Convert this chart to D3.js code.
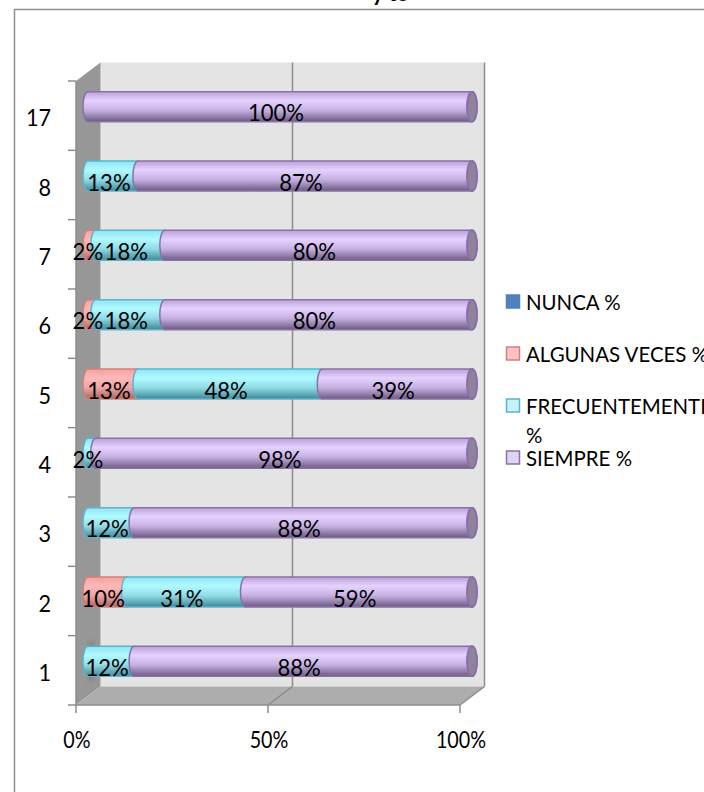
<!DOCTYPE html>
<html><head><meta charset="utf-8">
<script src="https://cdnjs.cloudflare.com/ajax/libs/d3/7.8.5/d3.min.js"></script>
<style>html,body{margin:0;padding:0;background:#fff;overflow:hidden}svg{display:block}text{font-family:Lato,"Open Sans",sans-serif;fill:#000}</style>
</head><body><svg id="c" width="704" height="792"></svg>
<script>
const categories = ["1","2","3","4","5","6","7","8","17"];
const seriesNames = ["NUNCA %","ALGUNAS VECES %","FRECUENTEMENTE %","SIEMPRE %"];
const nunca = [0,0,0,0,0,0,0,0,0];
const algunas = [0,10,0,0,13,2,2,0,0];
const frecuentemente = [12,31,12,2,48,18,18,13,0];
const siempre = [88,59,88,98,39,80,80,87,100];
const xTicks = [0,50,100];
const titleText = "y to";
const seriesValues = [nunca,algunas,frecuentemente,siempre];

const svg = d3.select("#c");
const defs = svg.append("defs");
const palette = [
 {stroke:"#4f81bd",stops:["#5f8fc8","#7fa8dc","#5f86b8","#34567f"],sw:"#4f81bd"},
 {stroke:"#d0807c",stops:["#f2a3a1","#ffb8b6","#eea5a3","#a86664"],sw:"#ffc4c2"},
 {stroke:"#5cb4cc",stops:["#8fe4f2","#b0faff","#90dbe6","#3f8795"],sw:"#c6f2f8"},
 {stroke:"#8a70aa",stops:["#b9a2d6","#e5d2ff","#c6b0e2","#6b5a80"],sw:"#e0d4ee"}
];
palette.forEach((p,i)=>{
  const g=defs.append("linearGradient").attr("id","g"+i).attr("x1",0).attr("x2",0).attr("y1",0).attr("y2",1);
  [0,.3,.62,1].forEach((o,j)=>g.append("stop").attr("offset",o).attr("stop-color",p.stops[j]));
});
defs.append("filter").attr("id","soft").append("feGaussianBlur").attr("stdDeviation",2.5);

// frame
svg.append("path").attr("d","M14.5,800V9.5H720").attr("fill","none").attr("stroke","#8e8e8e").attr("stroke-width",1.5);
svg.append("text").attr("x",372).attr("y",1).attr("font-weight",700).attr("font-size",22).text(titleText);

// 3D scaffold
const front = d3.scaleLinear().domain([0,100]).range([76,460]);
const depthX = 24.5, depthY = 18.5;
const plotTop = 81, base = 705;
const wallGrey="#e4e4e4", sideGrey="#979797", floorGrey="#adadad", lineGrey="#8c8c8c";
const poly=(pts,fill)=>svg.append("polygon").attr("points",pts.map(p=>p.join(",")).join(" ")).attr("fill",fill);
poly([[front(0)+depthX,plotTop-depthY],[front(100)+depthX,plotTop-depthY],[front(100)+depthX,base-depthY],[front(0)+depthX,base-depthY]],wallGrey);
poly([[front(0),plotTop],[front(0)+depthX,plotTop-depthY],[front(0)+depthX,base-depthY],[front(0),base]],sideGrey);
poly([[front(0),base],[front(0)+depthX,base-depthY],[front(100)+depthX,base-depthY],[front(100),base]],floorGrey);

const line=(x1,y1,x2,y2,w=1.5)=>svg.append("line").attr("x1",x1).attr("y1",y1).attr("x2",x2).attr("y2",y2).attr("stroke",lineGrey).attr("stroke-width",w);
xTicks.forEach(t=>{
  const x=front(t);
  if(t>0){ line(x+depthX,plotTop-depthY,x+depthX,base-depthY); line(x,base,x+depthX,base-depthY); }
  line(x,base,x,base+8);
});
line(front(0),plotTop,front(0),base);
line(front(0),base,front(100),base);

const yBand = d3.scaleBand().domain(categories.slice().reverse()).range([plotTop,base]);
yBand.domain().forEach(c=>line(68,yBand(c),76,yBand(c)));
line(68,base,76,base);

// condensed text helper: Lato scaled down to the reference's narrower metrics
function squeeze(sel,f){ sel.each(function(){const w=this.getComputedTextLength();d3.select(this).attr("textLength",w*f).attr("lengthAdjust","spacingAndGlyphs");}); return sel; }

const catY = d=>yBand(d)+yBand.bandwidth()/2;
squeeze(svg.append("g").selectAll("text").data(categories).join("text")
  .attr("x",51).attr("y",d=>catY(d)+1.5).attr("text-anchor","end").attr("dominant-baseline","central")
  .attr("font-size",23.5).text(d=>d),.92);

xTicks.forEach(t=>{
  squeeze(svg.append("text").attr("x",front(t)+1).attr("y",748).attr("text-anchor","middle")
    .attr("font-size",23.5).text(d3.format("d")(t)+"%"),.84);
});

// cylinders
const barX = d3.scaleLinear().domain([0,100]).range([88,472]);
const rx=5, ry=15;
const stacks = categories.map((c,i)=>{let acc=0;return seriesValues.map((s,k)=>{const o={c,k,v:s[i],x0:acc,x1:acc+s[i]};acc+=s[i];return o;});});
// faint shadow on the side wall beside the lowest bar
svg.append("ellipse").attr("cx",91).attr("cy",catY(categories[0])-9).attr("rx",4).attr("ry",20).attr("fill","#555").attr("opacity",.45).attr("filter","url(#soft)");
const barG = svg.append("g");
stacks.forEach(stack=>{
  const cy=catY(stack[0].c)-9;
  stack.filter(s=>s.v>0).forEach(s=>{
    const a=barX(s.x0), b=barX(s.x1), p=palette[s.k];
    const path=`M${a},${cy-ry}L${b},${cy-ry}A${rx},${ry} 0 0 1 ${b},${cy+ry}L${a},${cy+ry}A${rx},${ry} 0 0 1 ${a},${cy-ry}Z`;
    barG.append("path").attr("d",path).attr("fill",`url(#g${s.k})`).attr("stroke",p.stroke).attr("stroke-width",1.5);
    if(s.x1===100){
      barG.append("ellipse").attr("cx",b).attr("cy",cy).attr("rx",rx).attr("ry",ry).attr("fill","#8f8299").attr("stroke",p.stroke).attr("stroke-width",2);
    }
  });
});
const labG = svg.append("g");
stacks.forEach(stack=>{
  const cy=catY(stack[0].c)-9;
  stack.filter(s=>s.v>0).forEach(s=>{
    squeeze(labG.append("text").attr("x",barX((s.x0+s.x1)/2)-4).attr("y",cy+5).attr("text-anchor","middle")
      .attr("dominant-baseline","central").attr("font-size",24).text(s.v+"%"),.92);
  });
});

// legend
const legendY = d3.scalePoint().domain(seriesNames).range([302,458]);
seriesNames.forEach((n,i)=>{
  const y=legendY(n), p=palette[i];
  svg.append("rect").attr("x",506.5).attr("y",y-7).attr("width",13).attr("height",13).attr("fill",p.sw).attr("stroke",p.stroke).attr("stroke-width",1.5);
  const parts = n==="FRECUENTEMENTE %" ? ["FRECUENTEMENTE","%"] : [n];
  parts.forEach((t,j)=>{
    squeeze(svg.append("text").attr("x",526).attr("y",y+j*29).attr("dominant-baseline","central").attr("font-size",21.5).text(t),.95);
  });
});
</script></body></html>
